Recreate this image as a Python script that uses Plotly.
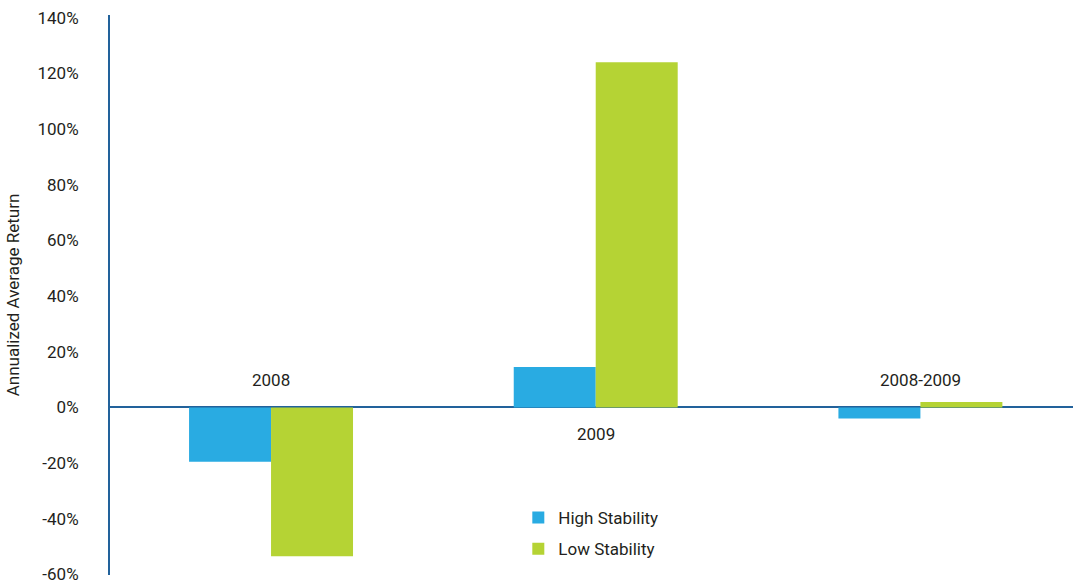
import plotly.graph_objects as go

# Annualized average return by period
periods = ["2008", "2009", "2008-2009"]
high_stability = [-19.5, 14.5, -4.0]
low_stability = [-53.5, 124.0, 2.0]

# Where each period label sits relative to the zero line (percent units)
label_y = [10, -9.5, 10]

y_ticks = list(range(-60, 141, 20))
y_tick_text = [f"{v}%" for v in y_ticks]

AXIS_BLUE = "#22629b"
TEXT = "#231f20"
FONT = "Roboto, Liberation Sans, sans-serif"

fig = go.Figure()
fig.add_trace(go.Bar(
    x=list(range(len(periods))), y=high_stability, name="High Stability",
    marker=dict(color="#29abe2", line=dict(width=0)), legend="legend",
))
fig.add_trace(go.Bar(
    x=list(range(len(periods))), y=low_stability, name="Low Stability",
    marker=dict(color="#b5d334", line=dict(width=0)), legend="legend2",
))

for i, (p, ly) in enumerate(zip(periods, label_y)):
    fig.add_annotation(
        x=i, y=ly, text=p, showarrow=False, xref="x", yref="y",
        font=dict(family=FONT, size=17, color=TEXT),
    )

legend_style = dict(
    xanchor="left", yanchor="middle", bgcolor="rgba(0,0,0,0)",
    font=dict(size=17, color=TEXT), itemwidth=30,
)

fig.update_layout(
    width=1073, height=584,
    margin=dict(l=110, r=0, t=15, b=9),
    paper_bgcolor="white", plot_bgcolor="white",
    barmode="group", bargap=0.495, bargroupgap=0,
    font=dict(family=FONT, size=16, color=TEXT),
    showlegend=True,
    legend=dict(x=0.424, y=0.102, **legend_style),
    legend2=dict(x=0.424, y=0.046, **legend_style),
    xaxis=dict(
        range=[-0.496, 2.47], showticklabels=False, showgrid=False,
        zeroline=False, showline=False, ticks="",
    ),
    yaxis=dict(
        range=[-60.2, 141], tickvals=y_ticks, ticktext=y_tick_text,
        showgrid=False, zeroline=True, zerolinecolor=AXIS_BLUE, zerolinewidth=2,
        showline=True, linecolor=AXIS_BLUE, linewidth=2, ticks="",
        ticklabelstandoff=26, ticklabeloverflow="allow",
        tickfont=dict(size=17, color=TEXT),
        title=dict(text="Annualized Average Return", standoff=14,
                   font=dict(size=17, color=TEXT)),
    ),
)

fig.write_html("out.html")
